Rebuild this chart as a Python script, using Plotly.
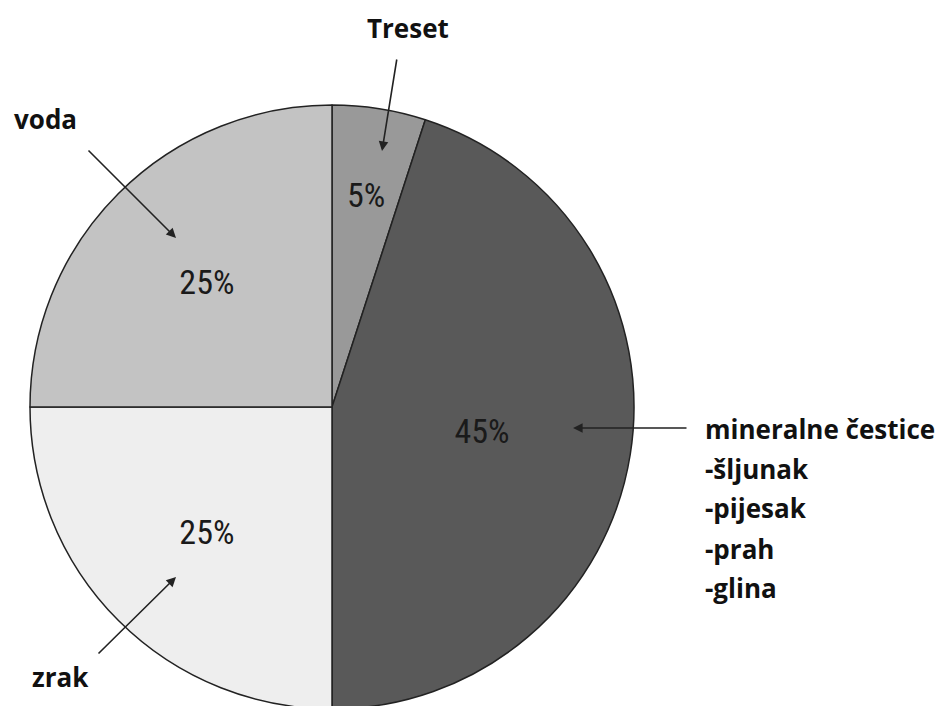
import math
import plotly.graph_objects as go

labels = ["Treset", "mineralne čestice", "zrak", "voda"]
values = [5, 45, 25, 25]
colors = ["#999999", "#595959", "#eeeeee", "#c3c3c3"]
mineral_lines = ["mineralne čestice", "-šljunak", "-pijesak", "-prah", "-glina"]

W, H = 951, 712  # slightly taller than the window so the pie bottom is cropped like the reference

def px(x):
    return x / W

def py(y):
    return 1 - y / H

# pie placement (pixels)
CX, CY, R = 332, 407, 302

pct_font = dict(family="Liberation Sans Narrow, Roboto Condensed, Arial Narrow, sans-serif",
                size=34, color="#1a1a1a")

# the thin first slice gets its label as an annotation (placed from its value), others inside
templates = ["" if i == 0 else "%{percent:.0%}" for i in range(len(values))]

fig = go.Figure(go.Pie(
    labels=labels,
    values=values,
    sort=False,
    direction="clockwise",
    rotation=0,
    marker=dict(colors=colors, line=dict(color="#222222", width=1.5)),
    texttemplate=templates,
    textposition="inside",
    insidetextorientation="horizontal",
    textfont=pct_font,
    domain=dict(x=[px(CX - R), px(CX + R)], y=[py(CY + R), py(CY - R)]),
    showlegend=False,
    hoverinfo="label+percent",
))

ann = []
total = sum(values)
mid = values[0] / total / 2 * 360.0
rr = 0.71 * R
ann.append(dict(text="%d%%" % round(values[0] / total * 100),
                x=px(CX + rr * math.sin(math.radians(mid))),
                y=py(CY - rr * math.cos(math.radians(mid))),
                xref="paper", yref="paper", xanchor="center", yanchor="middle",
                showarrow=False, font=pct_font))

lbl_font = dict(family="Open Sans, Noto Sans, sans-serif", size=26, color="#111111")
texts = [
    ("Treset", 408, 28, "center"),
    ("voda", 12, 119, "left"),
    ("zrak", 30, 677, "left"),
]
for t, x, y, al in texts:
    ann.append(dict(text="<b>%s</b>" % t, x=px(x), y=py(y), xref="paper", yref="paper",
                    xanchor=al, yanchor="middle", showarrow=False, font=lbl_font))
line_y = [429, 469, 508, 549, 588]
for s, y in zip(mineral_lines, line_y):
    ann.append(dict(text="<b>%s</b>" % s, x=px(703), y=py(y), xref="paper", yref="paper",
                    xanchor="left", yanchor="middle", showarrow=False, font=lbl_font))
# arrows: (tail x, tail y, tip x, tip y)
arrows = [
    (397, 58, 382, 151),
    (87, 149, 176, 238),
    (97, 655, 176, 577),
    (688, 428, 573, 428),
]
for tx, ty, hx, hy in arrows:
    ann.append(dict(text="", x=px(hx), y=py(hy), xref="paper", yref="paper",
                    ax=tx - hx, ay=ty - hy, axref="pixel", ayref="pixel",
                    showarrow=True, arrowhead=2, arrowsize=1.2, arrowwidth=1.6,
                    arrowcolor="#222222"))

fig.update_layout(
    width=W, height=H,
    margin=dict(l=0, r=0, t=0, b=0),
    paper_bgcolor="white",
    plot_bgcolor="white",
    annotations=ann,
)

fig.write_html("out.html", config={"displayModeBar": False},
               post_script="document.body.style.margin='0';document.body.style.overflow='hidden';")
